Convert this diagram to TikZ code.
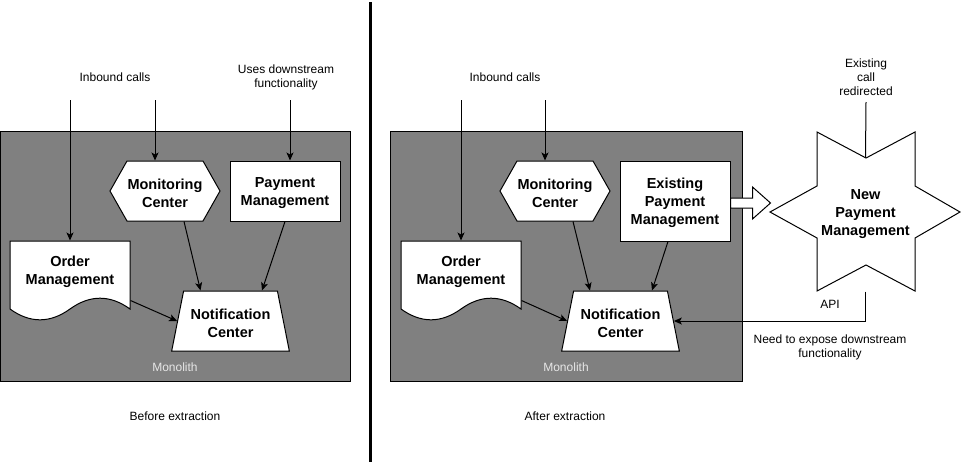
\documentclass[tikz,border=0pt]{standalone}
\usepackage{fontspec}
\setmainfont{Liberation Sans}
\usetikzlibrary{arrows.meta,shapes.geometric}
\usepackage{xcolor}
\definecolor{monogray}{RGB}{128,128,128}
\definecolor{monotext}{RGB}{230,230,230}
\newcommand{\topstrut}{\rule{0pt}{15pt}}

\tikzset{
  boldtext/.style={align=center, inner sep=0pt, font=\fontsize{14.5}{18}\selectfont\bfseries},
  shapebox/.style={boldtext, draw, fill=white},
  note/.style={align=center, font=\fontsize{12}{14}\selectfont},
  link/.style={-{Stealth[length=8pt,width=7pt,inset=2pt]}}
}

\begin{document}
\begin{tikzpicture}[x=1pt,y=-1pt,line width=1pt]
\useasboundingbox (0,0) rectangle (961,464);

% before extraction
\draw[fill=monogray] (0,131) rectangle (350,381);
\node[note, text=monotext] (monoA) at (175,367) {Monolith};
\node[note] (capA) at (175,416) {Before extraction};
\node[note] (inA) at (115,77) {Inbound calls};
\node[note] (useA) at (286,77) {Uses downstream\\functionality};

\draw[fill=white] (110,191) -- (127,161) -- (203,161) -- (220,191) -- (203,221) -- (127,221) -- cycle;
\node[boldtext, minimum width=110pt, minimum height=60pt] (monA) at (165,191) {\topstrut Monitoring\\Center};
\node[shapebox, minimum width=110pt, minimum height=60pt] (payA) at (285,191) {\topstrut Payment\\Management};
\draw[fill=white] (10,241) -- (130,241) -- (130,309)
  .. controls (110,294.6) and (90,294.6) .. (70,309)
  .. controls (50,323.4) and (30,323.4) .. (10,309) -- cycle;
\node[boldtext, minimum width=120pt, minimum height=60pt] (ordA) at (70,270) {\topstrut Order\\Management};
\node[shapebox, trapezium, trapezium left angle=73, trapezium right angle=73, trapezium stretches=true,
  minimum width=119pt, minimum height=60pt] (notA) at (230.5,321) {\topstrut Notification\\Center};

\coordinate (topA1) at (70,100);
\coordinate (topA2) at (155,100);
\coordinate (topA3) at (290,100);
\draw[link] (topA1) -- ([yshift=-1pt]ordA.north);
\draw[link] (topA2) -- ([xshift=-10pt]monA.north);
\draw[link] (topA3) -- ([xshift=5pt]payA.north);
\draw[link] ([xshift=19pt]monA.south) -- ([xshift=-30pt]notA.north);
\draw[link] (payA.south) -- ([xshift=31.5pt]notA.north);
\draw[link] (ordA.south east) -- (notA.west);

\draw[line width=3pt] (370.5,2) -- (370.5,462);

% after extraction
\draw[fill=monogray] (390,131) rectangle (742,381);
\node[note, text=monotext] (monoB) at (566,367) {Monolith};
\node[note] (capB) at (565,416) {After extraction};
\node[note] (inB) at (505,77) {Inbound calls};
\node[note] (redir) at (866,77) {Existing\\call\\redirected};
\node[note] (api) at (830,304) {API};
\node[note] (expose) at (830,347) {Need to expose downstream\\functionality};

\draw[fill=white] (500,191) -- (517,161) -- (593,161) -- (610,191) -- (593,221) -- (517,221) -- cycle;
\node[boldtext, minimum width=110pt, minimum height=60pt] (monB) at (555,191) {\topstrut Monitoring\\Center};
\node[shapebox, minimum width=110pt, minimum height=80pt] (payB) at (675,201) {\topstrut Existing\\Payment\\Management};
\draw[fill=white] (401,241) -- (521,241) -- (521,309)
  .. controls (501,294.6) and (481,294.6) .. (461,309)
  .. controls (441,323.4) and (421,323.4) .. (401,309) -- cycle;
\node[boldtext, minimum width=120pt, minimum height=60pt] (ordB) at (461,270) {\topstrut Order\\Management};
\node[shapebox, trapezium, trapezium left angle=73, trapezium right angle=73, trapezium stretches=true,
  minimum width=119pt, minimum height=60pt] (notB) at (620.5,321) {\topstrut Notification\\Center};

\draw[fill=white] (817,132) -- (866,158) -- (915,132) -- (915,186) -- (960,212) -- (915,238)
  -- (915,291) -- (866,265) -- (817,291) -- (817,238) -- (770,212) -- (817,186) -- cycle;
\node[boldtext, minimum width=190pt, minimum height=159pt] (newPay) at (865.5,211.5) {\topstrut New\\Payment\\Management};

\draw[fill=white] ([yshift=3pt]payB.east) -- ++(22,0) -- ++(0,-11) -- ++(18,16) -- ++(-18,16)
  -- ++(0,-11) -- ++(-22,0) -- cycle;

\coordinate (topB1) at (461,100);
\coordinate (topB2) at (545,100);
\coordinate (topB3) at (866,102);
\draw[link] (topB1) -- ([yshift=-1pt]ordB.north);
\draw[link] (topB2) -- ([xshift=-10pt]monB.north);
\draw (topB3) -- ([yshift=-26pt]newPay.north);
\draw[link] ([xshift=18pt]monB.south) -- ([xshift=-30.5pt]notB.north);
\draw[link] ([xshift=-7pt]payB.south) -- ([xshift=31.5pt]notB.north);
\draw[link] (ordB.south east) -- (notB.west);
\draw[link] (newPay.south) |- (notB.east);

\end{tikzpicture}
\end{document}
